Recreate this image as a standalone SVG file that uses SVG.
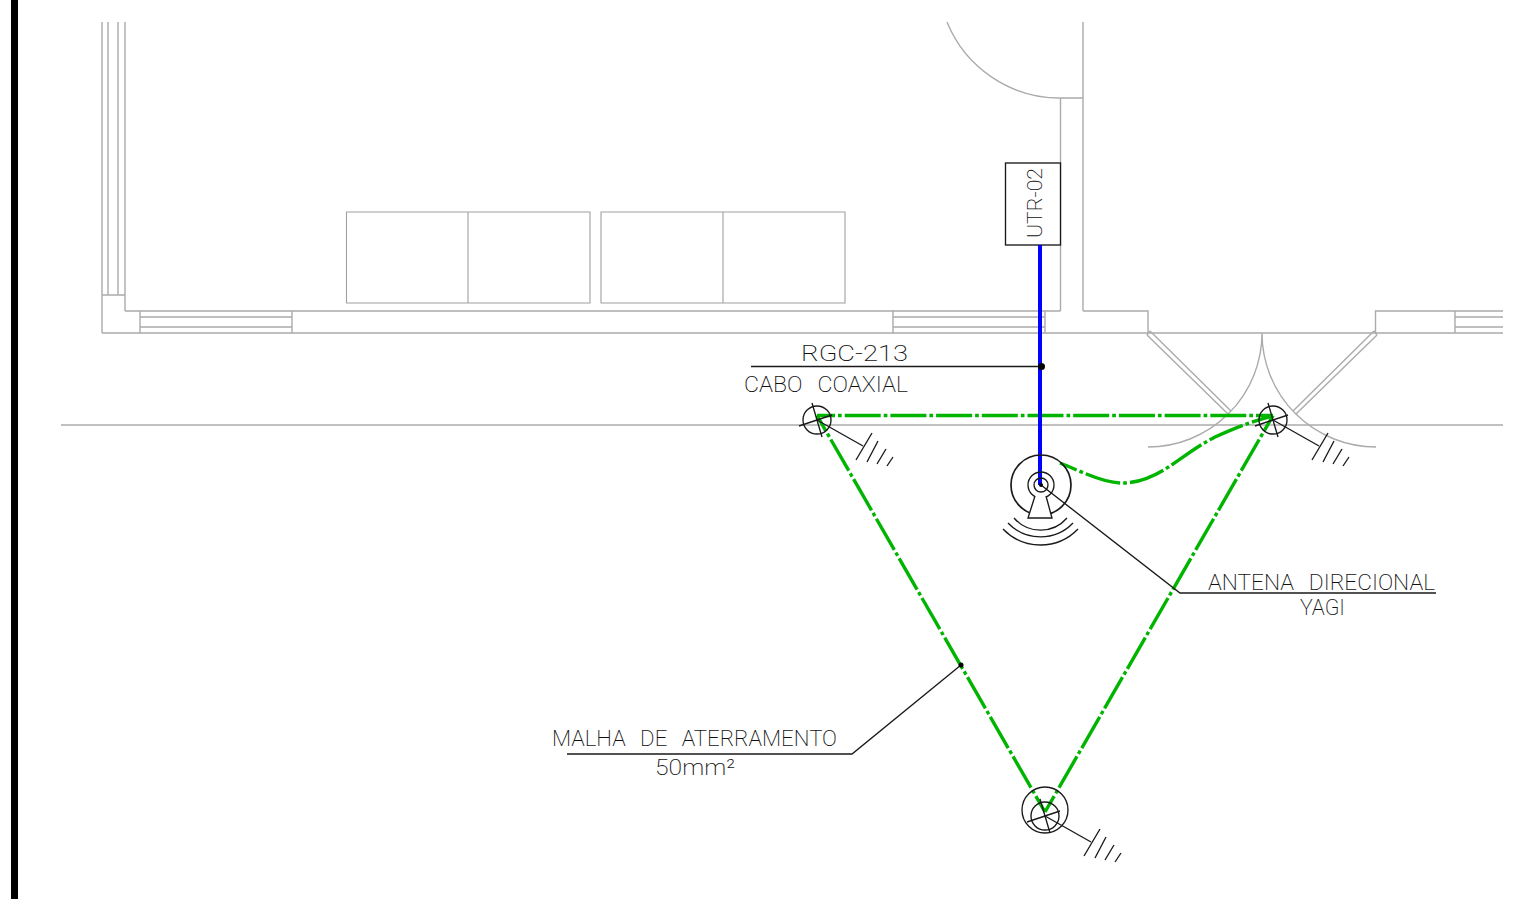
<svg xmlns="http://www.w3.org/2000/svg" width="1529" height="899" viewBox="0 0 1529 899">
<style>
.w{fill:none;stroke:#ababab;stroke-width:1.4}
.k{fill:none;stroke:#1a1a1a;stroke-width:1.35}
.g{fill:none;stroke:#00b400;stroke-width:3.4;stroke-dasharray:36 3 3.7 3;stroke-dashoffset:18}
.t{font-family:Roboto,"Liberation Sans",sans-serif;font-weight:200;font-size:22px;fill:#111;word-spacing:9px}
</style>
<defs>
<g id="gnd" class="k">
<path d="M0 0L46 26M55 13L39 40M61 21L50 42M69 29L60 44M76 37L70 46"/>
<path d="M-5 -17L5 17M-18 6L15 -5"/>
</g>
</defs>
<rect width="1529" height="899" fill="#fff"/>
<rect x="11" y="0" width="7" height="899" fill="#000"/>
<g id="building" class="w">
<path d="M102 22V333M108 22V295M118 22V295M125 22V311M102 295H125M125 311H1060.5M102 333H1503"/>
<path d="M140 311V333M292 311V333M140 317H292M140 327H292"/>
<path d="M893 311V333M1045 311V333M893 317H1045M893 327H1045"/>
<path d="M1060.5 98V311M1083 22V311M1060.5 98H1083M1083 311H1148V333"/>
<path d="M947 22A122 122 0 0 0 1060.5 98"/>
<path d="M1375.5 333V311H1503M1455 311V333M1455 317H1503M1455 327H1503"/>
<path d="M1150 331L1231 411M1147 335L1228 414M1150 331L1147 335"/>
<path d="M1374 331L1293 411M1377 335L1296 414M1374 331L1377 335"/>
<path d="M1262 333A114 114 0 0 1 1148 447M1262 333A114 114 0 0 0 1376 447"/>
<path d="M61 425H1503"/>
</g>
<g id="panels" class="w" style="stroke:#a0a0a0;stroke-width:1.1">
<path d="M346.5 212H590V303H346.5ZM468 212V303M601 212H845V303H601ZM723 212V303"/>
</g>
<g id="connectors">
<path class="g" d="M817 415.5H1273"/>
<path class="g" d="M817 415.5L1045 812"/>
<path class="g" d="M1273 415.5L1045 812"/>
<path class="g" d="M1060 463C1085 473 1105 484 1125 483C1160 481 1180 455 1215 437C1235 428 1255 420 1273 416"/>
<path d="M1040 245V485" fill="none" stroke="#0000ff" stroke-width="4"/>
<path class="k" d="M751 366.5H1041"/>
<circle cx="1041.5" cy="366.5" r="3.5" fill="#000"/>
<path class="k" d="M1041 485L1180 593H1436"/>
<path class="k" d="M961 665L852 754H567"/>
<circle cx="961" cy="665" r="2.5" fill="#000"/>
</g>
<g id="utr-02">
<rect class="k" x="1005.5" y="163" width="55" height="82" style="fill:#fff"/>
<path d="M1040 245V250" stroke="#0000ff" stroke-width="4"/>
<text class="t" transform="translate(1042 238) rotate(-90)" style="font-size:20px" textLength="70" lengthAdjust="spacingAndGlyphs">UTR-02</text>
</g>
<g id="antenna">
<g class="k">
<circle cx="1041" cy="485" r="30" style="stroke-width:1.7"/>
<circle cx="1041" cy="485" r="13"/>
<circle cx="1041" cy="485" r="7"/>
<path d="M1035 496L1028 518H1052L1046 496" style="fill:#fff"/>
<path d="M1014 518A35 35 0 0 0 1067 518M1008 523A45 45 0 0 0 1073 523M1003 529A52 52 0 0 0 1078 529"/>
</g>
<circle cx="1041" cy="485" r="2" fill="#000"/>
</g>
<g id="ground-left">
<circle class="k" cx="817" cy="420" r="14"/>
<use href="#gnd" x="817" y="420"/>
</g>
<g id="ground-right">
<circle class="k" cx="1273" cy="420" r="14"/>
<use href="#gnd" x="1273" y="420"/>
</g>
<g id="ground-bottom">
<circle class="k" cx="1045" cy="810" r="23"/>
<circle class="k" cx="1045" cy="816" r="14"/>
<use href="#gnd" x="1045" y="816"/>
</g>
<g id="labels">
<text class="t" x="801" y="361" textLength="107" lengthAdjust="spacingAndGlyphs">RGC-213</text>
<text class="t" x="744" y="392" textLength="164" lengthAdjust="spacingAndGlyphs">CABO COAXIAL</text>
<text class="t" x="1208" y="590" textLength="227" lengthAdjust="spacingAndGlyphs">ANTENA DIRECIONAL</text>
<text class="t" x="1300" y="615" textLength="45" lengthAdjust="spacingAndGlyphs">YAGI</text>
<text class="t" x="552" y="746" textLength="285" lengthAdjust="spacingAndGlyphs">MALHA DE ATERRAMENTO</text>
<text class="t" x="655" y="775" textLength="80" lengthAdjust="spacingAndGlyphs">50mm²</text>
</g>
</svg>
